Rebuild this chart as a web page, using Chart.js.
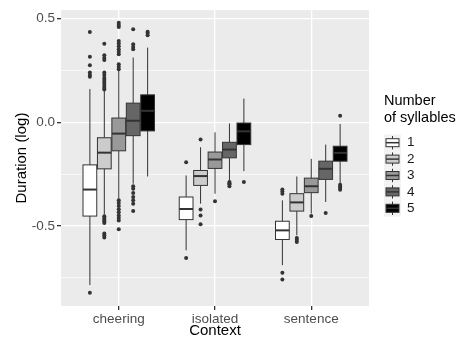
<!DOCTYPE html>
<html>
<head>
<meta charset="utf-8">
<script src="https://cdn.jsdelivr.net/npm/chart.js@4/dist/chart.umd.min.js"></script>
<style>
  html, body { margin: 0; padding: 0; background: #fff; }
  #wrap { width: 456px; height: 338px; }
</style>
</head>
<body>
<div id="wrap"><canvas id="chart" width="456" height="338"></canvas></div>
<script>
const contexts = ['cheering', 'isolated', 'sentence'];
const syllables = ['1', '2', '3', '4', '5'];
const yTicks = [-0.75, -0.5, -0.25, 0, 0.25, 0.5];

// box stats, one row per syllable count, one value per context
const whiskerHi = [
  [0.16, -0.257, -0.377],
  [0.151, -0.121, -0.262],
  [0.248, -0.049, -0.177],
  [0.312, -0.006, -0.108],
  [0.36, 0.114, -0.009],
];
const q3 = [
  [-0.206, -0.361, -0.478],
  [-0.075, -0.233, -0.345],
  [0.02, -0.144, -0.27],
  [0.092, -0.097, -0.188],
  [0.132, -0.004, -0.116],
];
const median = [
  [-0.325, -0.419, -0.522],
  [-0.147, -0.26, -0.387],
  [-0.055, -0.18, -0.309],
  [0.007, -0.132, -0.225],
  [0.055, -0.044, -0.148],
];
const q1 = [
  [-0.453, -0.47, -0.566],
  [-0.225, -0.305, -0.429],
  [-0.138, -0.223, -0.34],
  [-0.065, -0.172, -0.276],
  [-0.042, -0.108, -0.188],
];
const whiskerLo = [
  [-0.786, -0.618, -0.69],
  [-0.446, -0.393, -0.546],
  [-0.369, -0.345, -0.441],
  [-0.297, -0.281, -0.385],
  [-0.262, -0.236, -0.297],
];
const outliers = [
  [[0.435, 0.316, 0.275, 0.24, 0.228, 0.219, -0.823], [-0.193, -0.655], [-0.325, -0.334, -0.345, -0.727, -0.759]],
  [[0.379, 0.323, 0.31, 0.3, 0.24, 0.228, 0.215, 0.205, 0.195, 0.185, 0.175, 0.165, 0.158,
    -0.454, -0.462, -0.47, -0.478, -0.487, -0.537, -0.546, -0.556], [-0.083, -0.421, -0.45, -0.493], [-0.559, -0.568, -0.578]],
  [[0.48, 0.469, 0.459, 0.392, 0.38, 0.366, 0.352, 0.34, 0.328, 0.28, 0.268, 0.256,
    -0.377, -0.39, -0.405, -0.42, -0.435, -0.45, -0.462, -0.474, -0.517], [-0.382], [-0.453]],
  [[0.448, 0.376, 0.363, 0.352, -0.309, -0.321, -0.342, -0.361, -0.377, -0.393, -0.429], [-0.289, -0.295, -0.3, -0.309], [-0.438]],
  [[0.437, 0.43, 0.42], [-0.289], [0.031, -0.302, -0.31, -0.318, -0.326]],
];

const fills = ['#ffffff', '#cccccc', '#999999', '#666666', '#000000'];
const ink = '#333333';
const dodge = 0.15;
const boxW = 0.143;
const FONT = '"Liberation Sans", Arial, sans-serif';

const isMajor = v => Math.abs(v * 2 - Math.round(v * 2)) < 1e-9;
const xOf = (c, g) => c + 1 + (g - 2) * dodge;

const datasets = syllables.map((s, g) => ({
  label: s,
  data: outliers[g].flatMap((vals, c) => vals.map(v => ({ x: xOf(c, g), y: v }))),
  pointRadius: 2,
  pointHoverRadius: 2,
  pointBackgroundColor: ink,
  pointBorderWidth: 0,
}));

const boxPlugin = {
  id: 'boxes',
  beforeDraw(chart) {
    const { ctx, chartArea: a } = chart;
    ctx.save();
    ctx.fillStyle = '#ebebeb';
    ctx.fillRect(a.left, a.top, a.right - a.left, a.bottom - a.top);
    ctx.restore();
  },
  beforeDatasetsDraw(chart) {
    const { ctx, scales: { x, y } } = chart;
    const half = (x.getPixelForValue(boxW) - x.getPixelForValue(0)) / 2;
    ctx.save();
    syllables.forEach((s, g) => {
      contexts.forEach((c, i) => {
        const xc = x.getPixelForValue(xOf(i, g));
        ctx.strokeStyle = ink;
        ctx.lineWidth = 1;
        ctx.beginPath();
        ctx.moveTo(xc, y.getPixelForValue(whiskerHi[g][i]));
        ctx.lineTo(xc, y.getPixelForValue(q3[g][i]));
        ctx.moveTo(xc, y.getPixelForValue(q1[g][i]));
        ctx.lineTo(xc, y.getPixelForValue(whiskerLo[g][i]));
        ctx.stroke();
        const top = y.getPixelForValue(q3[g][i]);
        const bot = y.getPixelForValue(q1[g][i]);
        ctx.fillStyle = fills[g];
        ctx.fillRect(xc - half, top, half * 2, bot - top);
        ctx.strokeRect(xc - half, top, half * 2, bot - top);
        const m = y.getPixelForValue(median[g][i]);
        ctx.lineWidth = 2;
        ctx.beginPath();
        ctx.moveTo(xc - half, m);
        ctx.lineTo(xc + half, m);
        ctx.stroke();
      });
    });
    ctx.restore();
  },
  afterDraw(chart) {
    const { ctx } = chart;
    ctx.save();
    ctx.fillStyle = '#000';
    ctx.font = '14.5px ' + FONT;
    ctx.textBaseline = 'middle';
    ctx.textAlign = 'left';
    ctx.fillText('Number', 384, 101);
    ctx.fillText('of syllables', 384, 118);
    const key = 16.4;
    syllables.forEach((s, g) => {
      const cy = 142.7 + g * key;
      const kx = 384, ky = cy - key / 2;
      ctx.fillStyle = '#f2f2f2';
      ctx.fillRect(kx, ky, 17, key);
      const cx = kx + 8.5;
      ctx.strokeStyle = ink;
      ctx.lineWidth = 1;
      ctx.beginPath();
      ctx.moveTo(cx, ky + 1.5);
      ctx.lineTo(cx, ky + key - 1.5);
      ctx.stroke();
      ctx.fillStyle = fills[g];
      ctx.fillRect(kx + 2, cy - 4, 13, 8);
      ctx.strokeRect(kx + 2, cy - 4, 13, 8);
      ctx.lineWidth = 1.5;
      ctx.beginPath();
      ctx.moveTo(kx + 2, cy);
      ctx.lineTo(kx + 15, cy);
      ctx.stroke();
      ctx.fillStyle = '#1a1a1a';
      ctx.font = '13.5px ' + FONT;
      ctx.fillText(s, 407, cy);
    });
    ctx.restore();
  },
};

new Chart(document.getElementById('chart'), {
  type: 'scatter',
  data: { datasets },
  plugins: [boxPlugin],
  options: {
    responsive: false,
    devicePixelRatio: 1,
    animation: false,
    layout: { padding: { left: 0, top: 9, right: 87, bottom: 0 } },
    plugins: { legend: { display: false }, tooltip: { enabled: false } },
    scales: {
      x: {
        type: 'linear',
        min: 0.4,
        max: 3.6,
        afterBuildTicks: s => { s.ticks = contexts.map((c, i) => ({ value: i + 1 })); },
        afterFit: s => { s.height = 32; },
        ticks: {
          callback: v => contexts[Math.round(v) - 1],
          color: '#4d4d4d',
          font: { family: FONT, size: 13.5 },
          padding: 1,
          maxRotation: 0,
        },
        grid: { color: '#ffffff', lineWidth: 1.3, tickColor: ink, tickLength: 4 },
        border: { display: false },
        title: {
          display: true, text: 'Context', color: '#000',
          font: { family: FONT, size: 15, lineHeight: 1 }, padding: 0,
        },
      },
      y: {
        min: -0.887,
        max: 0.541,
        afterBuildTicks: s => { s.ticks = yTicks.map(v => ({ value: v })); },
        afterFit: s => { s.width = 61; },
        ticks: {
          callback: v => isMajor(v) ? v.toFixed(1) : '',
          color: '#4d4d4d',
          font: { family: FONT, size: 13.5 },
          padding: 2,
        },
        grid: {
          color: '#ffffff',
          lineWidth: c => isMajor(c.tick.value) ? 1.3 : 0.65,
          tickColor: c => isMajor(c.tick.value) ? ink : 'rgba(0,0,0,0)',
          tickLength: 4,
        },
        border: { display: false },
        title: {
          display: true, text: 'Duration (log)', color: '#000',
          font: { family: FONT, size: 15, lineHeight: 1.2 }, padding: { top: 13 },
        },
      },
    },
  },
});
</script>
</body>
</html>
